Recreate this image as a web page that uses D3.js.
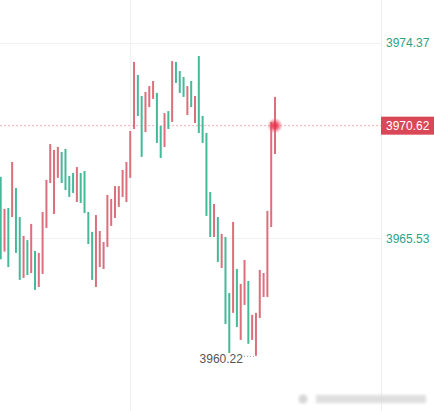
<!DOCTYPE html>
<html>
<head>
<meta charset="utf-8">
<script src="https://cdn.jsdelivr.net/npm/d3@7"></script>
<style>
  body { margin: 0; background: #fff; }
  svg { display: block; font-family: "Liberation Sans", Arial, sans-serif; }
</style>
</head>
<body>
<div id="chart"></div>
<script>
// bar data (one entry per bar, left to right)
var highs = [3968.31, 3966.86, 3966.90, 3968.98, 3967.80, 3966.49, 3965.64, 3965.45, 3966.18, 3964.96,
             3964.87, 3966.72, 3968.17, 3969.79, 3969.52, 3969.66, 3969.43, 3969.57, 3968.35, 3968.48,
             3968.75, 3968.48, 3968.57, 3966.72, 3965.82, 3966.58, 3965.86, 3965.36, 3967.49, 3967.31,
             3967.89, 3967.89, 3968.62, 3968.98, 3970.38, 3973.50, 3972.91, 3971.96, 3972.14, 3972.41,
             3972.64, 3972.10, 3970.61, 3971.19, 3971.28, 3973.54, 3973.50, 3973.09, 3972.82, 3972.41,
             3972.64, 3971.96, 3973.77, 3971.06, 3970.29, 3967.62, 3967.08, 3966.49, 3965.73, 3965.59,
             3963.06, 3966.27, 3964.14, 3963.47, 3964.55, 3963.60, 3962.07, 3962.16, 3964.10, 3963.96,
             3966.77, 3970.79, 3971.92];
var lows  = [3964.58, 3964.93, 3964.23, 3966.49, 3964.87, 3963.65, 3963.74, 3963.87, 3963.96, 3963.20,
             3963.33, 3963.92, 3966.00, 3968.03, 3966.63, 3968.26, 3968.03, 3967.71, 3967.40, 3967.58,
             3967.17, 3967.13, 3966.67, 3965.27, 3963.65, 3963.33, 3964.23, 3964.14, 3965.14, 3966.09,
             3966.45, 3966.95, 3967.40, 3967.17, 3968.26, 3970.47, 3971.06, 3969.21, 3970.33, 3971.46,
             3971.83, 3969.84, 3969.16, 3969.66, 3970.47, 3970.79, 3972.55, 3972.10, 3971.92, 3971.10,
             3971.46, 3970.74, 3970.29, 3969.84, 3966.54, 3965.59, 3965.59, 3964.46, 3964.19, 3961.66,
             3960.35, 3962.16, 3961.52, 3960.94, 3962.52, 3960.76, 3960.94, 3960.22, 3961.93, 3962.88,
             3962.88, 3966.04, 3969.34];
// 1 = up (red), 0 = down (green)
var ups   = [0, 1, 0, 1, 0, 0, 1, 0, 1, 0,
             1, 1, 1, 1, 1, 1, 0, 0, 0, 0,
             1, 0, 0, 0, 0, 1, 1, 1, 1, 1,
             1, 1, 1, 1, 1, 1, 0, 0, 1, 1,
             1, 0, 0, 1, 0, 1, 0, 0, 0, 1,
             0, 1, 0, 0, 0, 0, 1, 0, 1, 0,
             0, 1, 0, 1, 1, 0, 1, 1, 1, 1,
             1, 1, 1];
var priceTicks = [3974.37, 3965.53];
var lastPrice = 3970.62;
var timeGridIndex = [34];

var W = 434, H = 411, plotRight = 381;
var upColor = "#dc6f7c", downColor = "#45ba98";

var svg = d3.select("#chart")
    .append("svg")
        .attr("width", W)
        .attr("height", H);

svg.append("rect").attr("width", W).attr("height", H).attr("fill", "#fff");

var x = d3.scaleLinear()
    .domain([0, highs.length - 1])
    .range([0.7, 275]);

var y = d3.scaleLinear()
    .domain([priceTicks[1], priceTicks[0]])
    .range([238.3, 42.7]);

// grid
svg.selectAll(".hgrid")
    .data(priceTicks)
    .enter().append("line")
        .attr("x1", 0).attr("x2", plotRight)
        .attr("y1", function(d){ return Math.round(y(d)) + 0.5 })
        .attr("y2", function(d){ return Math.round(y(d)) + 0.5 })
        .attr("stroke", "#f1f1f1");
svg.selectAll(".vgrid")
    .data(timeGridIndex)
    .enter().append("line")
        .attr("x1", function(d){ return Math.round(x(d)) + 0.5 })
        .attr("x2", function(d){ return Math.round(x(d)) + 0.5 })
        .attr("y1", 0).attr("y2", H)
        .attr("stroke", "#f1f1f1");
svg.append("line")
    .attr("x1", plotRight + 0.5).attr("x2", plotRight + 0.5)
    .attr("y1", 0).attr("y2", H)
    .attr("stroke", "#eeeeee");

// right axis
var axis = svg.append("g")
    .attr("transform", "translate(" + plotRight + ",0)")
    .call(d3.axisRight(y).tickValues(priceTicks).tickSize(0).tickPadding(5).tickFormat(d3.format(".2f")));
axis.select(".domain").remove();
axis.selectAll("text")
    .attr("fill", "#2aa385")
    .style("font-size", "12px");

// current price line
svg.append("line")
    .attr("x1", 0).attr("x2", plotRight)
    .attr("y1", y(lastPrice)).attr("y2", y(lastPrice))
    .attr("stroke", "#f4b0b8")
    .attr("stroke-width", 1)
    .attr("stroke-dasharray", "2,2");

// bars
var data = highs.map(function(h, i){ return {i: i, high: h, low: lows[i], up: ups[i]} });
svg.append("g")
    .selectAll("rect")
    .data(data)
    .enter().append("rect")
        .attr("x", function(d){ return x(d.i) - 1 })
        .attr("width", 2)
        .attr("y", function(d){ return y(d.high) })
        .attr("height", function(d){ return y(d.low) - y(d.high) })
        .attr("fill", function(d){ return d.up ? upColor : downColor });

// glowing dot on the last bar
var defs = svg.append("defs");
var glow = defs.append("radialGradient").attr("id", "glow");
glow.append("stop").attr("offset", "0%").attr("stop-color", "#e8334a").attr("stop-opacity", 1);
glow.append("stop").attr("offset", "40%").attr("stop-color", "#e8334a").attr("stop-opacity", 0.75);
glow.append("stop").attr("offset", "100%").attr("stop-color", "#f07a88").attr("stop-opacity", 0);
svg.append("circle")
    .attr("cx", x(data.length - 1))
    .attr("cy", y(lastPrice))
    .attr("r", 8)
    .attr("fill", "url(#glow)");

// last price tag
svg.append("rect")
    .attr("x", plotRight).attr("y", y(lastPrice) - 9)
    .attr("width", W - plotRight).attr("height", 18)
    .attr("fill", "#d94856");
svg.append("text")
    .attr("x", plotRight + 5).attr("y", y(lastPrice))
    .attr("dy", "0.35em")
    .attr("fill", "#fff")
    .style("font-size", "12px")
    .text(d3.format(".2f")(lastPrice));

// lowest price marker
var minBar = data.reduce(function(a, b){ return b.low < a.low ? b : a });
svg.append("line")
    .attr("x1", x(minBar.i) - 12).attr("x2", x(minBar.i) - 1)
    .attr("y1", y(minBar.low) + 0.5).attr("y2", y(minBar.low) + 0.5)
    .attr("stroke", "#999")
    .attr("stroke-dasharray", "1,2");
svg.append("text")
    .attr("x", x(minBar.i) - 13).attr("y", y(minBar.low) + 7.5)
    .attr("text-anchor", "end")
    .attr("fill", "#555")
    .style("font-size", "12px")
    .text(d3.format(".2f")(minBar.low));

// blurred watermark, bottom right
var blur = defs.append("filter").attr("id", "blur");
blur.append("feGaussianBlur").attr("stdDeviation", 1.8);
var wm = svg.append("g").attr("filter", "url(#blur)").attr("fill", "#d6d6d6");
wm.append("circle").attr("cx", 303).attr("cy", 399).attr("r", 4.5);
wm.append("rect").attr("x", 316).attr("y", 395).attr("width", 110).attr("height", 8).attr("opacity", 0.8);
</script>
</body>
</html>
